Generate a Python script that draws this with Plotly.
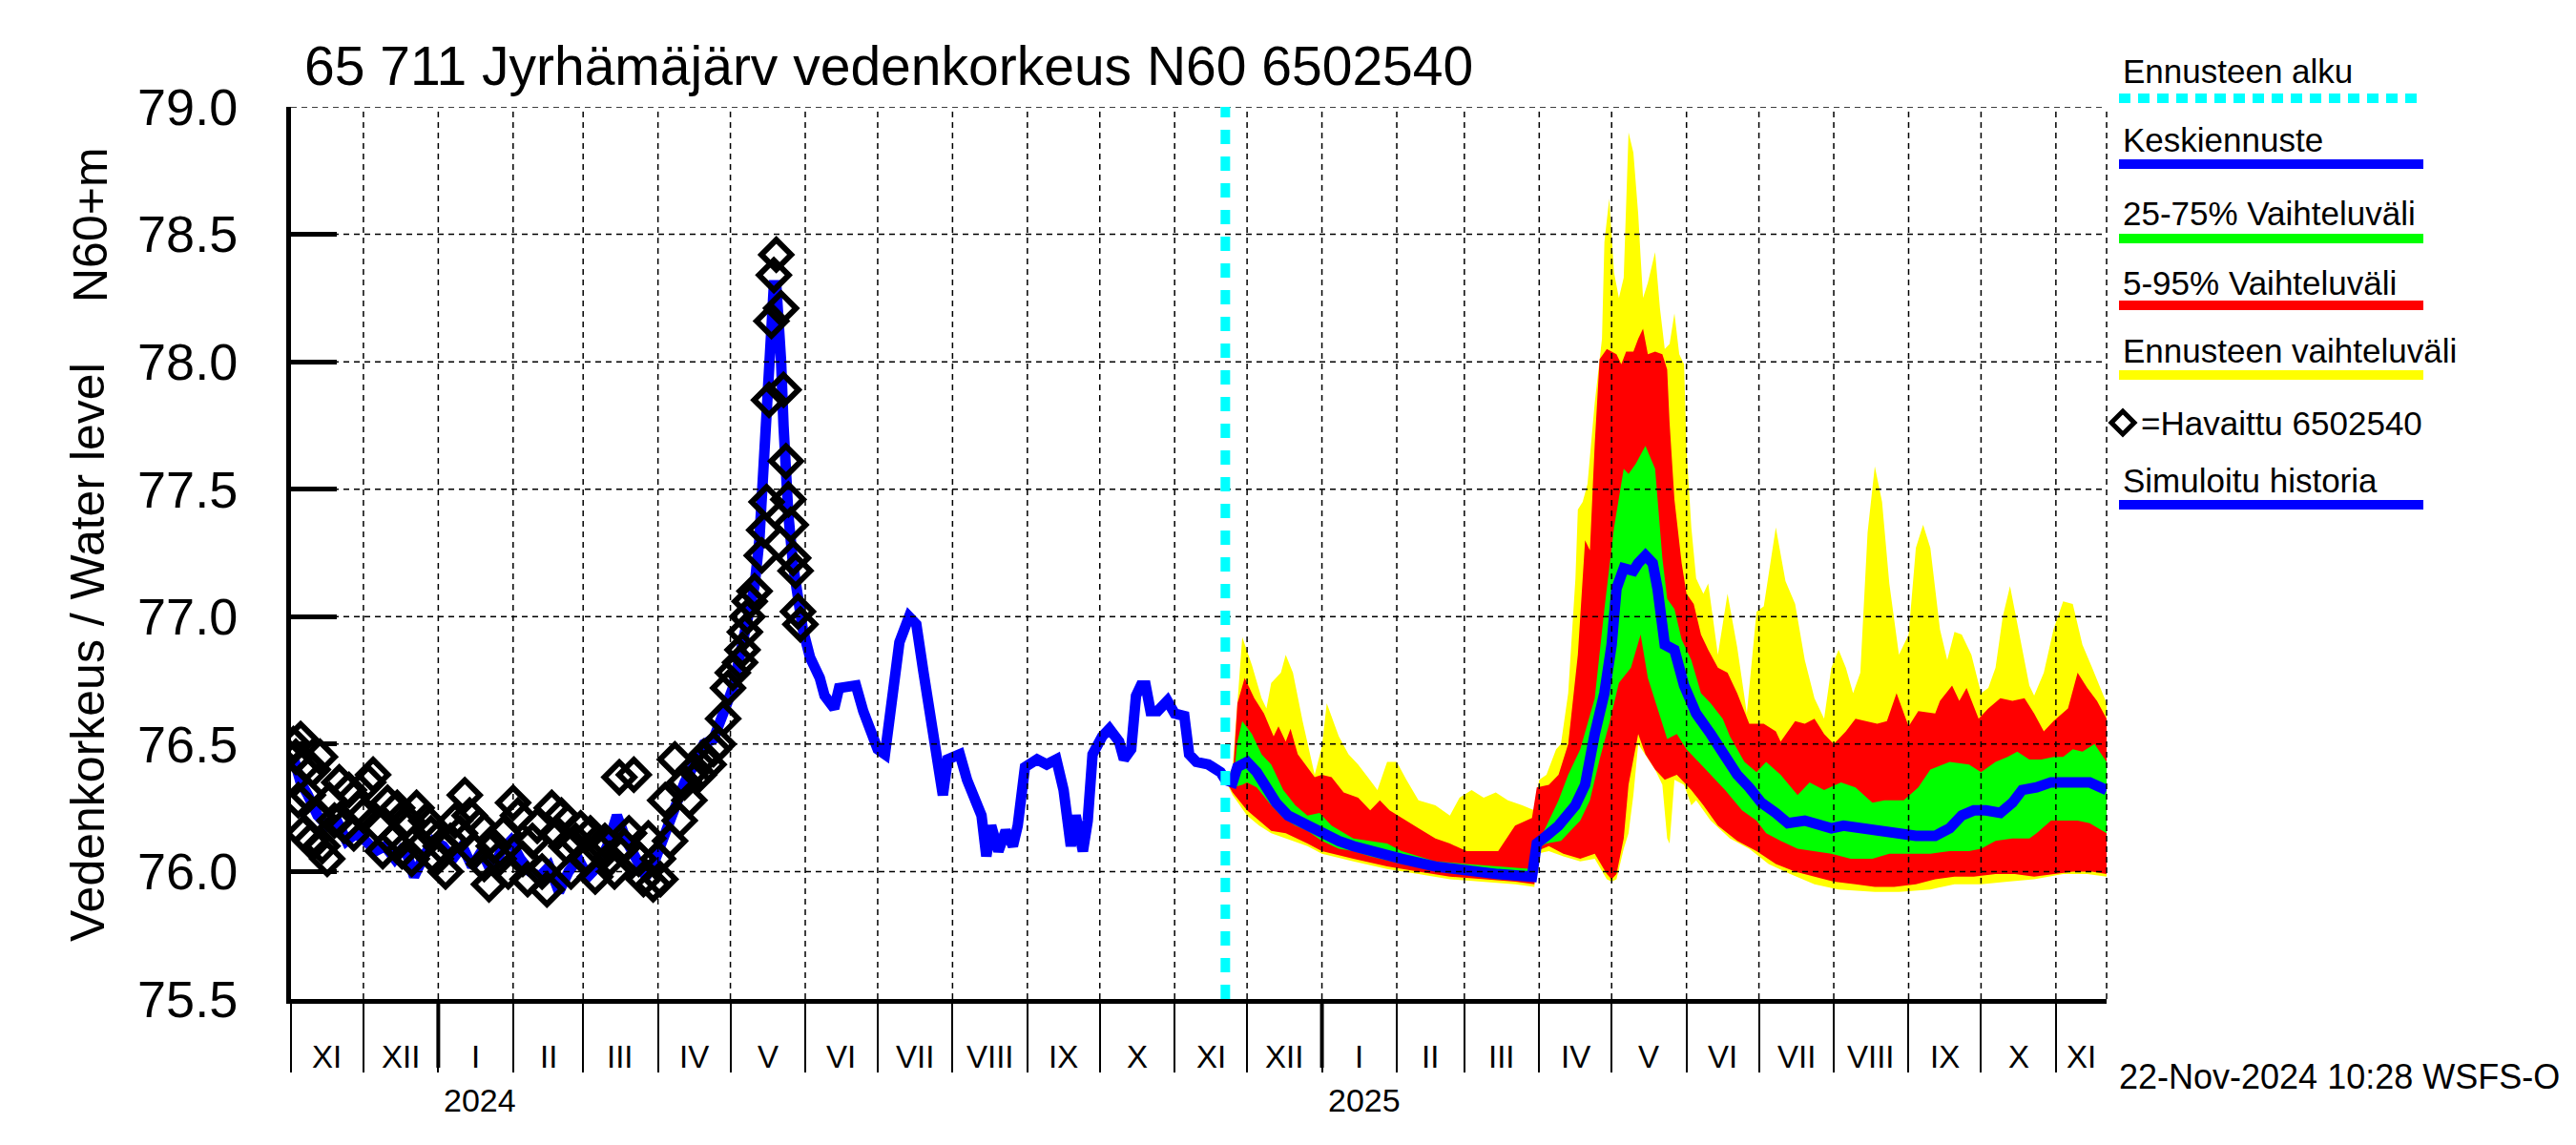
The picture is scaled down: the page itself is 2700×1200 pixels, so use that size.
import pandas as pd
import plotly.graph_objects as go

# ---------------- data ----------------
title_text = "65 711 Jyrhämäjärv vedenkorkeus N60 6502540"
footer_text = "22-Nov-2024 10:28 WSFS-O"
x_start, x_end = "2023-11-01", "2025-11-22"
forecast_start = "2024-11-22"
y_ticks = [75.5, 76.0, 76.5, 77.0, 77.5, 78.0, 78.5, 79.0]
roman_months = ["I", "II", "III", "IV", "V", "VI", "VII", "VIII", "IX", "X", "XI", "XII"]
year_labels = ["2024", "2025"]

obs_dates = ["2023-11-02", "2023-11-03", "2023-11-04", "2023-11-05", "2023-11-06", "2023-11-07", "2023-11-08",
             "2023-11-09", "2023-11-10", "2023-11-12", "2023-11-13", "2023-11-14", "2023-11-16", "2023-11-17",
             "2023-11-19", "2023-11-21", "2023-11-23", "2023-11-25", "2023-11-27", "2023-11-29", "2023-12-01",
             "2023-12-03", "2023-12-05", "2023-12-07", "2023-12-09", "2023-12-11", "2023-12-13", "2023-12-15",
             "2023-12-17", "2023-12-19", "2023-12-21", "2023-12-23", "2023-12-25", "2023-12-27", "2023-12-29",
             "2023-12-31", "2024-01-02", "2024-01-04", "2024-01-06", "2024-01-08", "2024-01-10", "2024-01-12",
             "2024-01-14", "2024-01-16", "2024-01-18", "2024-01-20", "2024-01-22", "2024-01-24", "2024-01-26",
             "2024-01-28", "2024-01-30", "2024-02-01", "2024-02-03", "2024-02-05", "2024-02-07", "2024-02-09",
             "2024-02-11", "2024-02-13", "2024-02-15", "2024-02-17", "2024-02-19", "2024-02-21", "2024-02-23",
             "2024-02-25", "2024-02-27", "2024-02-29", "2024-03-02", "2024-03-04", "2024-03-06", "2024-03-08",
             "2024-03-10", "2024-03-12", "2024-03-14", "2024-03-16", "2024-03-18", "2024-03-20", "2024-03-22",
             "2024-03-24", "2024-03-26", "2024-03-28", "2024-03-30", "2024-04-01", "2024-04-02", "2024-04-04",
             "2024-04-06", "2024-04-08", "2024-04-10", "2024-04-12", "2024-04-14", "2024-04-16", "2024-04-18",
             "2024-04-20", "2024-04-22", "2024-04-24", "2024-04-26", "2024-04-28", "2024-04-30", "2024-05-02",
             "2024-05-05", "2024-05-06", "2024-05-07", "2024-05-08", "2024-05-09", "2024-05-11", "2024-05-14",
             "2024-05-15", "2024-05-16", "2024-05-17", "2024-05-18", "2024-05-19", "2024-05-20", "2024-05-22",
             "2024-05-23", "2024-05-24", "2024-05-25", "2024-05-26", "2024-05-27", "2024-05-28", "2024-05-29",
             "2024-05-30"]
obs_values = [76.50, 76.45, 76.28, 76.52, 76.15, 76.42, 76.30,
              76.12, 76.40, 76.22, 76.45, 76.10, 76.05, 76.28,
              76.20, 76.35, 76.18, 76.32, 76.15, 76.25, 76.22,
              76.35, 76.38, 76.18, 76.08, 76.27, 76.12, 76.25,
              76.08, 76.20, 76.05, 76.25, 76.10, 76.20, 76.15,
              76.05, 76.10, 76.00, 76.12, 76.20, 76.15, 76.30,
              76.22, 76.08, 76.18, 76.03, 75.95, 76.10, 76.05,
              76.15, 76.00, 76.27, 76.22, 76.05, 75.97, 76.12,
              76.18, 76.00, 75.93, 76.25, 76.15, 76.22, 76.10,
              76.00, 76.12, 76.17, 76.05, 76.15, 75.98, 76.08,
              76.12, 76.05, 76.00, 76.37, 76.10, 76.15, 76.38,
              76.05, 75.97, 76.13, 75.95, 76.05, 75.97, 76.28,
              76.12, 76.44, 76.20, 76.35, 76.28, 76.40, 76.38,
              76.45, 76.42, 76.48, 76.50, 76.60, 76.72, 76.78,
              76.82, 76.87, 76.94, 77.00, 77.06, 77.10, 77.24,
              77.34, 77.45, 77.85, 78.16, 78.34, 78.42, 78.21,
              77.89, 77.61, 77.46, 77.36, 77.23, 77.18, 77.02,
              76.97]

sim_dates = ["2023-11-02", "2023-11-05", "2023-11-08", "2023-11-12", "2023-11-16", "2023-11-20", "2023-11-24",
             "2023-11-28", "2023-12-02", "2023-12-06", "2023-12-10", "2023-12-14", "2023-12-18", "2023-12-22",
             "2023-12-26", "2023-12-30", "2024-01-03", "2024-01-07", "2024-01-11", "2024-01-15", "2024-01-19",
             "2024-01-23", "2024-01-27", "2024-01-31", "2024-02-04", "2024-02-08", "2024-02-12", "2024-02-16",
             "2024-02-20", "2024-02-24", "2024-02-28", "2024-03-03", "2024-03-07", "2024-03-11", "2024-03-15",
             "2024-03-19", "2024-03-23", "2024-03-27", "2024-03-31", "2024-04-04", "2024-04-08", "2024-04-12",
             "2024-04-16", "2024-04-20", "2024-04-24", "2024-04-28", "2024-05-02", "2024-05-05", "2024-05-08",
             "2024-05-11", "2024-05-13", "2024-05-15", "2024-05-16", "2024-05-17", "2024-05-18", "2024-05-19",
             "2024-05-20", "2024-05-21", "2024-05-22", "2024-05-23", "2024-05-24", "2024-05-25", "2024-05-27",
             "2024-05-29", "2024-05-31", "2024-06-03", "2024-06-07", "2024-06-09", "2024-06-13", "2024-06-15",
             "2024-06-20", "2024-06-22", "2024-06-25", "2024-06-28", "2024-07-01", "2024-07-04", "2024-07-07",
             "2024-07-10", "2024-07-14", "2024-07-17", "2024-07-20", "2024-07-23", "2024-07-26", "2024-07-28",
             "2024-07-30", "2024-08-04", "2024-08-07", "2024-08-11", "2024-08-13", "2024-08-15", "2024-08-17",
             "2024-08-20", "2024-08-23", "2024-08-26", "2024-08-28", "2024-08-31", "2024-09-05", "2024-09-09",
             "2024-09-13", "2024-09-16", "2024-09-19", "2024-09-21", "2024-09-24", "2024-09-26", "2024-09-28",
             "2024-10-02", "2024-10-05", "2024-10-09", "2024-10-11", "2024-10-14", "2024-10-16", "2024-10-18",
             "2024-10-20", "2024-10-22", "2024-10-25", "2024-10-29", "2024-11-01", "2024-11-05", "2024-11-07",
             "2024-11-10", "2024-11-15", "2024-11-20", "2024-11-22"]
sim_values = [76.45, 76.35, 76.30, 76.22, 76.18, 76.20, 76.12,
              76.15, 76.12, 76.08, 76.10, 76.05, 76.10, 75.98,
              76.06, 76.12, 76.10, 76.05, 76.10, 76.02, 76.08,
              76.00, 76.08, 76.12, 76.05, 76.00, 75.98, 76.02,
              75.92, 76.00, 76.05, 75.98, 76.02, 76.10, 76.22,
              76.12, 76.05, 75.98, 76.05, 76.15, 76.25, 76.35,
              76.42, 76.50, 76.52, 76.62, 76.72, 76.85, 77.00,
              77.12, 77.30, 77.60, 77.85, 78.05, 78.20, 78.30,
              78.30, 78.20, 78.00, 77.75, 77.55, 77.40, 77.20,
              77.05, 76.95, 76.84, 76.76, 76.69, 76.64, 76.72,
              76.73, 76.73, 76.63, 76.56, 76.48, 76.46, 76.66,
              76.90, 77.00, 76.97, 76.78, 76.60, 76.44, 76.30,
              76.44, 76.46, 76.36, 76.28, 76.22, 76.06, 76.18,
              76.08, 76.16, 76.10, 76.18, 76.41, 76.44, 76.42,
              76.44, 76.32, 76.10, 76.22, 76.08, 76.20, 76.46,
              76.53, 76.56, 76.51, 76.44, 76.48, 76.69, 76.73,
              76.73, 76.63, 76.63, 76.67, 76.62, 76.61, 76.46,
              76.43, 76.42, 76.39, 76.36]

# forecast: whole range (yellow), max and min
max_dates = ["2024-11-22", "2024-11-25", "2024-11-27", "2024-11-29", "2024-12-03", "2024-12-07", "2024-12-09",
             "2024-12-11", "2024-12-15", "2024-12-17", "2024-12-20", "2024-12-24", "2024-12-29", "2025-01-01",
             "2025-01-03", "2025-01-08", "2025-01-12", "2025-01-16", "2025-01-20", "2025-01-24", "2025-01-28",
             "2025-02-01", "2025-02-05", "2025-02-10", "2025-02-17", "2025-02-23", "2025-02-27", "2025-03-04",
             "2025-03-09", "2025-03-14", "2025-03-19", "2025-03-25", "2025-03-30", "2025-04-01", "2025-04-04",
             "2025-04-08", "2025-04-10", "2025-04-13", "2025-04-16", "2025-04-17", "2025-04-19", "2025-04-21",
             "2025-04-24", "2025-04-27", "2025-04-28", "2025-04-30", "2025-05-02", "2025-05-04", "2025-05-06",
             "2025-05-07", "2025-05-08", "2025-05-10", "2025-05-12", "2025-05-13", "2025-05-14", "2025-05-16",
             "2025-05-19", "2025-05-21", "2025-05-23", "2025-05-25", "2025-05-27", "2025-05-29", "2025-05-31",
             "2025-06-01", "2025-06-03", "2025-06-05", "2025-06-08", "2025-06-10", "2025-06-14", "2025-06-18",
             "2025-06-22", "2025-06-26", "2025-06-30", "2025-07-03", "2025-07-08", "2025-07-12", "2025-07-16",
             "2025-07-20", "2025-07-24", "2025-07-28", "2025-07-31", "2025-08-03", "2025-08-06", "2025-08-09",
             "2025-08-12", "2025-08-15", "2025-08-18", "2025-08-21", "2025-08-24", "2025-08-28", "2025-09-01",
             "2025-09-04", "2025-09-07", "2025-09-10", "2025-09-14", "2025-09-17", "2025-09-20", "2025-09-23",
             "2025-09-27", "2025-10-01", "2025-10-04", "2025-10-07", "2025-10-10", "2025-10-13", "2025-10-17",
             "2025-10-21", "2025-10-23", "2025-10-27", "2025-10-31", "2025-11-04", "2025-11-08", "2025-11-12",
             "2025-11-16", "2025-11-22"]
max_values = [76.36, 76.41, 76.66, 76.92, 76.81, 76.68, 76.64,
              76.74, 76.78, 76.85, 76.78, 76.59, 76.38, 76.49,
              76.66, 76.53, 76.46, 76.42, 76.37, 76.32, 76.43,
              76.43, 76.36, 76.28, 76.26, 76.22, 76.29, 76.32,
              76.29, 76.31, 76.28, 76.26, 76.24, 76.36, 76.38,
              76.48, 76.50, 76.70, 77.15, 77.42, 77.45, 77.52,
              77.84, 78.09, 78.47, 78.64, 78.35, 78.25, 78.33,
              78.58, 78.90, 78.82, 78.58, 78.41, 78.25, 78.31,
              78.43, 78.21, 78.05, 78.07, 78.19, 78.03, 77.99,
              77.66, 77.35, 77.15, 77.09, 77.13, 76.85, 77.09,
              76.88, 76.62, 77.02, 77.04, 77.35, 77.14, 77.05,
              76.83, 76.68, 76.60, 76.80, 76.87, 76.80, 76.70,
              76.78, 77.33, 77.59, 77.45, 77.13, 76.85, 76.93,
              77.27, 77.36, 77.27, 76.95, 76.83, 76.94, 76.93,
              76.85, 76.70, 76.72, 76.80, 77.00, 77.12, 76.93,
              76.73, 76.69, 76.78, 76.95, 77.06, 77.05, 76.89,
              76.80, 76.66]

min_dates = ["2024-11-22", "2024-11-25", "2024-12-01", "2024-12-06", "2024-12-11", "2024-12-17", "2024-12-26",
             "2025-01-01", "2025-01-14", "2025-01-28", "2025-02-10", "2025-02-23", "2025-03-09", "2025-03-22",
             "2025-03-30", "2025-03-31", "2025-04-05", "2025-04-11", "2025-04-18", "2025-04-24", "2025-04-29",
             "2025-05-01", "2025-05-03", "2025-05-06", "2025-05-08", "2025-05-10", "2025-05-12", "2025-05-15",
             "2025-05-19", "2025-05-22", "2025-05-24", "2025-05-25", "2025-05-27", "2025-05-31", "2025-06-03",
             "2025-06-05", "2025-06-11", "2025-06-19", "2025-06-27", "2025-07-05", "2025-07-14", "2025-07-24",
             "2025-08-03", "2025-08-18", "2025-08-28", "2025-09-10", "2025-09-20", "2025-10-01", "2025-10-12",
             "2025-10-23", "2025-11-04", "2025-11-14", "2025-11-22"]
min_values = [76.36, 76.30, 76.22, 76.18, 76.15, 76.13, 76.10,
              76.07, 76.04, 76.01, 75.99, 75.97, 75.96, 75.95,
              75.94, 76.07, 76.08, 76.06, 76.04, 76.05, 75.97,
              75.96, 75.97, 76.09, 76.15, 76.30, 76.50, 76.46,
              76.40, 76.34, 76.13, 76.11, 76.36, 76.34, 76.26,
              76.28, 76.20, 76.13, 76.09, 76.03, 75.99, 75.95,
              75.93, 75.92, 75.92, 75.93, 75.95, 75.95, 75.96,
              75.97, 75.99, 75.99, 75.98]

# forecast: 5-95 % (red)
p95_dates = ["2024-11-22", "2024-11-25", "2024-11-27", "2024-11-30", "2024-12-04", "2024-12-08", "2024-12-12",
             "2024-12-14", "2024-12-17", "2024-12-19", "2024-12-22", "2024-12-26", "2024-12-29", "2025-01-01",
             "2025-01-05", "2025-01-10", "2025-01-16", "2025-01-21", "2025-01-25", "2025-01-29", "2025-02-03",
             "2025-02-10", "2025-02-17", "2025-02-23", "2025-03-02", "2025-03-09", "2025-03-15", "2025-03-22",
             "2025-03-29", "2025-03-31", "2025-04-05", "2025-04-09", "2025-04-13", "2025-04-17", "2025-04-20",
             "2025-04-22", "2025-04-24", "2025-04-26", "2025-04-29", "2025-05-03", "2025-05-05", "2025-05-07",
             "2025-05-10", "2025-05-12", "2025-05-14", "2025-05-16", "2025-05-19", "2025-05-22", "2025-05-24",
             "2025-05-25", "2025-05-27", "2025-05-30", "2025-06-01", "2025-06-04", "2025-06-07", "2025-06-10",
             "2025-06-14", "2025-06-18", "2025-06-22", "2025-06-27", "2025-07-03", "2025-07-08", "2025-07-10",
             "2025-07-16", "2025-07-20", "2025-07-24", "2025-07-28", "2025-08-01", "2025-08-06", "2025-08-10",
             "2025-08-15", "2025-08-19", "2025-08-23", "2025-08-27", "2025-09-01", "2025-09-05", "2025-09-12",
             "2025-09-14", "2025-09-19", "2025-09-22", "2025-09-25", "2025-09-30", "2025-10-04", "2025-10-09",
             "2025-10-14", "2025-10-19", "2025-10-23", "2025-10-27", "2025-10-31", "2025-11-06", "2025-11-10",
             "2025-11-14", "2025-11-18", "2025-11-22"]
p95_values = [76.36, 76.36, 76.66, 76.76, 76.68, 76.62, 76.53,
              76.57, 76.51, 76.56, 76.46, 76.41, 76.37, 76.38,
              76.37, 76.31, 76.29, 76.24, 76.28, 76.24, 76.21,
              76.17, 76.13, 76.11, 76.08, 76.08, 76.08, 76.18,
              76.21, 76.33, 76.34, 76.38, 76.50, 76.85, 77.30,
              77.26, 77.68, 78.01, 78.05, 78.03, 77.99, 78.04,
              78.04, 78.09, 78.13, 78.03, 78.04, 78.03, 77.97,
              77.76, 77.46, 77.21, 77.09, 77.05, 76.93, 76.87,
              76.80, 76.78, 76.70, 76.58, 76.58, 76.55, 76.51,
              76.59, 76.58, 76.60, 76.54, 76.50, 76.55, 76.60,
              76.59, 76.58, 76.59, 76.70, 76.57, 76.63, 76.62,
              76.67, 76.73, 76.67, 76.72, 76.60, 76.64, 76.68,
              76.67, 76.68, 76.62, 76.55, 76.59, 76.64, 76.78,
              76.72, 76.67, 76.60]

p05_dates = ["2024-11-22", "2024-11-25", "2024-12-01", "2024-12-06", "2024-12-11", "2024-12-17", "2024-12-26",
             "2025-01-01", "2025-01-14", "2025-01-28", "2025-02-10", "2025-02-23", "2025-03-09", "2025-03-22",
             "2025-03-30", "2025-03-31", "2025-04-05", "2025-04-11", "2025-04-18", "2025-04-24", "2025-04-29",
             "2025-05-01", "2025-05-03", "2025-05-06", "2025-05-08", "2025-05-12", "2025-05-15", "2025-05-19",
             "2025-05-23", "2025-05-28", "2025-06-03", "2025-06-08", "2025-06-14", "2025-06-22", "2025-06-30",
             "2025-07-08", "2025-07-16", "2025-07-24", "2025-08-01", "2025-08-10", "2025-08-18", "2025-08-26",
             "2025-09-04", "2025-09-12", "2025-09-20", "2025-09-28", "2025-10-07", "2025-10-15", "2025-10-23",
             "2025-10-31", "2025-11-08", "2025-11-16", "2025-11-22"]
p05_values = [76.36, 76.31, 76.24, 76.20, 76.16, 76.15, 76.11,
              76.08, 76.05, 76.02, 76.00, 75.98, 75.97, 75.96,
              75.95, 76.08, 76.10, 76.07, 76.05, 76.07, 75.99,
              75.97, 75.99, 76.13, 76.34, 76.54, 76.46, 76.40,
              76.36, 76.38, 76.32, 76.26, 76.18, 76.12, 76.08,
              76.03, 76.00, 75.98, 75.96, 75.95, 75.94, 75.94,
              75.95, 75.97, 75.98, 75.98, 75.99, 75.99, 75.98,
              75.99, 76.00, 76.00, 75.99]

# forecast: 25-75 % (green)
p75_dates = ["2024-11-22", "2024-11-25", "2024-11-27", "2024-11-29", "2024-12-03", "2024-12-07", "2024-12-11",
             "2024-12-16", "2024-12-21", "2024-12-26", "2024-12-31", "2025-01-05", "2025-01-14", "2025-01-21",
             "2025-01-28", "2025-02-03", "2025-02-17", "2025-03-02", "2025-03-15", "2025-03-29", "2025-03-31",
             "2025-04-05", "2025-04-09", "2025-04-13", "2025-04-18", "2025-04-24", "2025-04-28", "2025-05-02",
             "2025-05-06", "2025-05-08", "2025-05-11", "2025-05-15", "2025-05-19", "2025-05-22", "2025-05-24",
             "2025-05-27", "2025-05-30", "2025-06-03", "2025-06-07", "2025-06-11", "2025-06-16", "2025-06-19",
             "2025-06-25", "2025-06-30", "2025-07-04", "2025-07-10", "2025-07-17", "2025-07-22", "2025-07-28",
             "2025-08-04", "2025-08-10", "2025-08-17", "2025-08-22", "2025-08-30", "2025-09-05", "2025-09-10",
             "2025-09-18", "2025-09-26", "2025-10-01", "2025-10-07", "2025-10-12", "2025-10-16", "2025-10-21",
             "2025-10-26", "2025-10-31", "2025-11-04", "2025-11-08", "2025-11-12", "2025-11-17", "2025-11-22"]
p75_values = [76.36, 76.33, 76.51, 76.59, 76.54, 76.46, 76.42,
              76.32, 76.26, 76.22, 76.23, 76.18, 76.13, 76.12,
              76.11, 76.08, 76.04, 76.03, 76.02, 76.01, 76.10,
              76.20, 76.28, 76.38, 76.48, 76.68, 77.03, 77.35,
              77.58, 77.56, 77.60, 77.67, 77.58, 77.23, 77.07,
              77.03, 76.91, 76.83, 76.70, 76.66, 76.60, 76.53,
              76.43, 76.39, 76.43, 76.38, 76.30, 76.35, 76.32,
              76.35, 76.33, 76.27, 76.28, 76.28, 76.33, 76.40,
              76.43, 76.42, 76.39, 76.43, 76.45, 76.47, 76.44,
              76.44, 76.45, 76.45, 76.48, 76.47, 76.50, 76.43]

p25_dates = ["2024-11-22", "2024-11-25", "2024-11-29", "2024-12-01", "2024-12-05", "2024-12-11", "2024-12-16",
             "2024-12-21", "2024-12-26", "2025-01-01", "2025-01-08", "2025-01-14", "2025-01-21", "2025-02-03",
             "2025-02-17", "2025-03-02", "2025-03-15", "2025-03-29", "2025-03-31", "2025-04-04", "2025-04-10",
             "2025-04-14", "2025-04-18", "2025-04-22", "2025-04-26", "2025-04-30", "2025-05-04", "2025-05-09",
             "2025-05-13", "2025-05-16", "2025-05-20", "2025-05-24", "2025-05-28", "2025-06-01", "2025-06-05",
             "2025-06-11", "2025-06-17", "2025-06-24", "2025-06-30", "2025-07-04", "2025-07-10", "2025-07-17",
             "2025-07-24", "2025-07-31", "2025-08-08", "2025-08-17", "2025-08-24", "2025-09-01", "2025-09-10",
             "2025-09-18", "2025-09-26", "2025-10-01", "2025-10-07", "2025-10-14", "2025-10-21", "2025-10-24",
             "2025-10-30", "2025-11-04", "2025-11-10", "2025-11-15", "2025-11-22"]
p25_values = [76.36, 76.33, 76.34, 76.35, 76.33, 76.26, 76.21,
              76.18, 76.16, 76.12, 76.09, 76.08, 76.06, 76.03,
              76.01, 75.99, 75.97, 75.97, 76.09, 76.11, 76.12,
              76.16, 76.20, 76.28, 76.44, 76.58, 76.74, 76.80,
              76.93, 76.76, 76.64, 76.52, 76.54, 76.48, 76.44,
              76.38, 76.32, 76.24, 76.20, 76.15, 76.12, 76.09,
              76.08, 76.07, 76.05, 76.05, 76.07, 76.07, 76.07,
              76.08, 76.08, 76.09, 76.12, 76.13, 76.13, 76.15,
              76.20, 76.20, 76.20, 76.19, 76.15]

# forecast: median (blue)
median_dates = ["2024-11-22", "2024-11-25", "2024-11-27", "2024-12-01", "2024-12-05", "2024-12-09", "2024-12-13",
                "2024-12-18", "2024-12-24", "2024-12-29", "2025-01-03", "2025-01-08", "2025-01-14", "2025-01-21",
                "2025-01-28", "2025-02-03", "2025-02-17", "2025-03-02", "2025-03-15", "2025-03-29", "2025-03-31",
                "2025-04-04", "2025-04-09", "2025-04-16", "2025-04-20", "2025-04-24", "2025-04-28", "2025-05-01",
                "2025-05-03", "2025-05-06", "2025-05-10", "2025-05-12", "2025-05-15", "2025-05-18", "2025-05-20",
                "2025-05-23", "2025-05-27", "2025-05-31", "2025-06-05", "2025-06-11", "2025-06-16", "2025-06-22",
                "2025-06-27", "2025-07-02", "2025-07-08", "2025-07-13", "2025-07-20", "2025-07-26", "2025-07-31",
                "2025-08-05", "2025-08-12", "2025-08-18", "2025-08-26", "2025-09-04", "2025-09-12", "2025-09-18",
                "2025-09-23", "2025-09-28", "2025-10-03", "2025-10-09", "2025-10-14", "2025-10-18", "2025-10-24",
                "2025-10-30", "2025-11-04", "2025-11-10", "2025-11-15", "2025-11-22"]
median_values = [76.36, 76.35, 76.41, 76.43, 76.39, 76.33, 76.27,
                 76.22, 76.19, 76.17, 76.14, 76.12, 76.10, 76.08,
                 76.07, 76.05, 76.02, 76.00, 75.99, 75.98, 76.11,
                 76.14, 76.18, 76.26, 76.34, 76.54, 76.70, 76.89,
                 77.11, 77.19, 77.18, 77.21, 77.24, 77.21, 77.11,
                 76.89, 76.87, 76.73, 76.62, 76.54, 76.46, 76.38,
                 76.33, 76.27, 76.23, 76.19, 76.20, 76.18, 76.17,
                 76.18, 76.17, 76.17, 76.15, 76.14, 76.14, 76.17,
                 76.22, 76.24, 76.24, 76.23, 76.27, 76.32, 76.33,
                 76.35, 76.35, 76.35, 76.35, 76.32]

legend_labels = ["Ennusteen alku", "Keskiennuste", "25-75% Vaihteluväli", "5-95% Vaihteluväli",
                 "Ennusteen vaihteluväli", "=Havaittu 6502540", "Simuloitu historia"]

# ---------------- styling / layout ----------------
FONT = "Liberation Sans, Arial, Helvetica, sans-serif"
BLUE, GREEN, RED, YELLOW, CYAN = "#0000ff", "#00ff00", "#ff0000", "#ffff00", "#00ffff"
W, H = 2700, 1200
L, R, T, B = 305, 2208, 112, 1047  # plot area in pixels
PW, PH = R - L, B - T


def px(x):
    return (x - L) / PW


def py(y):
    return (B - y) / PH


fig = go.Figure()

fig.add_trace(go.Scatter(x=sim_dates, y=sim_values, mode="lines",
                         line=dict(color=BLUE, width=11), hoverinfo="skip"))
fig.add_trace(go.Scatter(x=obs_dates, y=obs_values, mode="markers",
                         marker=dict(symbol="diamond-open", size=24, color="black",
                                     line=dict(width=6, color="black"))))


def band(td, tv, bd, bv, color):
    fig.add_trace(go.Scatter(x=list(td) + list(bd)[::-1], y=list(tv) + list(bv)[::-1],
                             mode="lines", fill="toself", fillcolor=color,
                             line=dict(width=0, color=color), hoverinfo="skip"))


band(max_dates, max_values, min_dates, min_values, YELLOW)
band(p95_dates, p95_values, p05_dates, p05_values, RED)
band(p75_dates, p75_values, p25_dates, p25_values, GREEN)
fig.add_trace(go.Scatter(x=median_dates, y=median_values, mode="lines",
                         line=dict(color=BLUE, width=11), hoverinfo="skip"))

shapes = []
grid = dict(color="black", width=1.5, dash="6px,5px")
for d in pd.date_range("2023-12-01", x_end, freq="MS"):
    shapes.append(dict(type="line", xref="x", yref="paper", x0=d, x1=d, y0=0, y1=1,
                       line=grid, layer="above"))
shapes.append(dict(type="line", xref="paper", yref="paper", x0=1, x1=1, y0=0, y1=1,
                   line=grid, layer="above"))
for v in y_ticks[1:]:
    shapes.append(dict(type="line", xref="paper", yref="y", x0=0, x1=1, y0=v, y1=v,
                       line=grid, layer="above"))
# forecast start
shapes.append(dict(type="line", xref="x", yref="paper", x0=forecast_start, x1=forecast_start,
                   y0=0, y1=1, line=dict(color=CYAN, width=10, dash="15px,13px"), layer="above"))
# year ticks
for yl in year_labels:
    shapes.append(dict(type="line", xref="x", yref="paper", x0=f"{yl}-01-01", x1=f"{yl}-01-01",
                       y0=0, y1=-72 / PH, line=dict(color="black", width=4)))

annotations = []
# month labels centred in the visible part of each month
xs, xe = pd.Timestamp(x_start), pd.Timestamp(x_end)
for m in pd.date_range(x_start, x_end, freq="MS"):
    a = max(m, xs)
    b = min(m + pd.offsets.MonthBegin(1), xe)
    mid = a + (b - a) / 2
    annotations.append(dict(x=mid, y=-60 / PH, xref="x", yref="paper", text=roman_months[m.month - 1],
                            showarrow=False, xanchor="center", yanchor="middle",
                            font=dict(family=FONT, size=33, color="black")))
for yl in year_labels:
    annotations.append(dict(x=f"{yl}-01-01", y=-106 / PH, xref="x", yref="paper", text=yl,
                            showarrow=False, xanchor="left", yanchor="middle", xshift=4,
                            font=dict(family=FONT, size=34, color="black")))

annotations.append(dict(x=px(317), y=py(69), xref="paper", yref="paper", text=title_text,
                        showarrow=False, xanchor="left", yanchor="middle",
                        font=dict(family=FONT, size=57, color="black")))
annotations.append(dict(x=px(92), y=py(684), xref="paper", yref="paper", text="Vedenkorkeus / Water level",
                        showarrow=False, textangle=-90, xanchor="center", yanchor="middle",
                        font=dict(family=FONT, size=50, color="black")))
annotations.append(dict(x=px(95), y=py(236), xref="paper", yref="paper", text="N60+m",
                        showarrow=False, textangle=-90, xanchor="center", yanchor="middle",
                        font=dict(family=FONT, size=50, color="black")))
annotations.append(dict(x=px(2219), y=py(1128), xref="paper", yref="paper", text=footer_text,
                        showarrow=False, xanchor="left", yanchor="middle",
                        font=dict(family=FONT, size=36, color="black")))

# legend (drawn by hand at the right side)
leg_text_y = [74, 146, 224, 296, 367, 443, 503]
leg_line_y = [103, 172, 250, 320, 393, None, 529]
leg_colors = [CYAN, BLUE, GREEN, RED, YELLOW, None, BLUE]
for i, lab in enumerate(legend_labels):
    tx = 2242 if leg_line_y[i] is None else 2223
    annotations.append(dict(x=px(tx), y=py(leg_text_y[i]), xref="paper", yref="paper", text=lab,
                            showarrow=False, xanchor="left", yanchor="middle",
                            font=dict(family=FONT, size=35, color="black")))
    if leg_line_y[i] is not None:
        ln = dict(color=leg_colors[i], width=10)
        if i == 0:
            ln["dash"] = "12px,8px"
        shapes.append(dict(type="line", xref="paper", yref="paper", x0=px(2221), x1=px(2540),
                           y0=py(leg_line_y[i]), y1=py(leg_line_y[i]), line=ln))
# diamond symbol for observations
cx, cy, r = 2225, 443, 12
shapes.append(dict(type="path", xref="paper", yref="paper",
                   path=f"M {px(cx)},{py(cy - r)} L {px(cx + r)},{py(cy)} L {px(cx)},{py(cy + r)} "
                        f"L {px(cx - r)},{py(cy)} Z",
                   line=dict(color="black", width=5)))

fig.update_layout(
    width=W, height=H,
    margin=dict(l=L, r=W - R, t=T, b=H - B),
    paper_bgcolor="white", plot_bgcolor="white",
    showlegend=False,
    shapes=shapes, annotations=annotations,
    xaxis=dict(type="date", range=[x_start, x_end], showgrid=False, zeroline=False,
               tick0=x_start, dtick="M1", ticks="outside", ticklen=72, tickwidth=1.5,
               tickcolor="black", showticklabels=False,
               showline=True, linecolor="black", linewidth=5),
    yaxis=dict(range=[y_ticks[0], y_ticks[-1]], tickvals=y_ticks, tickformat=".1f",
               showgrid=False, zeroline=False,
               ticks="inside", ticklen=48, tickwidth=5, tickcolor="black",
               ticklabelstandoff=40,
               tickfont=dict(family=FONT, size=54, color="black"),
               showline=True, linecolor="black", linewidth=5),
)

fig.write_html("out.html", config={"displayModeBar": False},
               post_script="document.body.style.margin='0';document.body.style.overflow='hidden';")
